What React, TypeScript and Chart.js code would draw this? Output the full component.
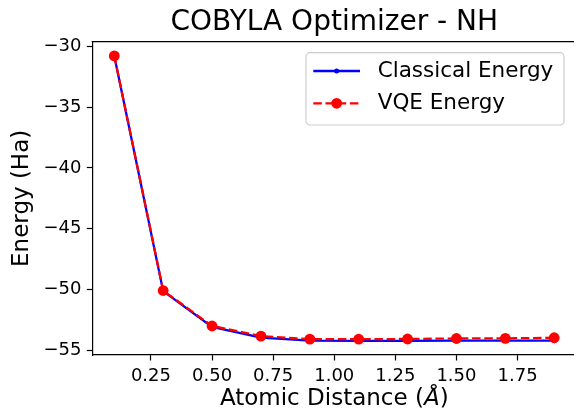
import React, { useEffect, useRef } from "react";
import { Chart, registerables } from "chart.js";

Chart.register(...registerables);

const distances = [0.1, 0.3, 0.5, 0.7, 0.9, 1.1, 1.3, 1.5, 1.7, 1.9];
const classicalEnergy = [-30.77, -50.15, -53.1, -53.98, -54.22, -54.24, -54.24, -54.23, -54.23, -54.23];
const vqeEnergy = [-30.77, -50.1, -53.02, -53.86, -54.1, -54.11, -54.09, -54.05, -54.04, -53.99];
const xTicks = [0.25, 0.5, 0.75, 1.0, 1.25, 1.5, 1.75];
const yTicks = [-55, -50, -45, -40, -35, -30];
const seriesLabels = ["Classical Energy", "VQE Energy"];
const chartTitle = "COBYLA Optimizer - NH";
const xTitleParts = ["Atomic Distance (", "Å", ")"];
const yTitle = "Energy (Ha)";

const FONT = '"DejaVu Sans", sans-serif';

const framePlugin = {
  id: "frame",
  afterDraw(chart: any) {
    const { ctx, chartArea } = chart;
    ctx.save();
    ctx.strokeStyle = "#000";
    ctx.lineWidth = 1.2;
    ctx.beginPath();
    ctx.moveTo(chartArea.left - 0.6, chartArea.top);
    ctx.lineTo(chartArea.right, chartArea.top);
    ctx.lineTo(chartArea.right, chartArea.bottom);
    ctx.stroke();
    ctx.restore();
  },
};

const xTitlePlugin = {
  id: "xTitle",
  afterDraw(chart: any) {
    const { ctx, chartArea } = chart;
    ctx.save();
    const normal = `23px ${FONT}`;
    const italic = `italic 23px ${FONT}`;
    ctx.font = normal;
    const w0 = ctx.measureText(xTitleParts[0]).width;
    const w2 = ctx.measureText(xTitleParts[2]).width;
    ctx.font = italic;
    const w1 = ctx.measureText(xTitleParts[1]).width;
    const total = w0 + w1 + w2;
    let x = (chartArea.left + chartArea.right) / 2 - total / 2;
    const y = chartArea.bottom + 44;
    ctx.fillStyle = "#000";
    ctx.textBaseline = "middle";
    ctx.textAlign = "left";
    ctx.font = normal;
    ctx.fillText(xTitleParts[0], x, y);
    x += w0;
    ctx.font = italic;
    ctx.fillText(xTitleParts[1], x, y);
    x += w1;
    ctx.font = normal;
    ctx.fillText(xTitleParts[2], x, y);
    ctx.restore();
  },
};

const legendPlugin = {
  id: "insideLegend",
  afterDraw(chart: any) {
    const { ctx, chartArea } = chart;
    const datasets = chart.data.datasets;
    ctx.save();
    ctx.font = `21.5px ${FONT}`;
    const tw = Math.max(...seriesLabels.map((l) => ctx.measureText(l).width));
    const padL = 7.3, lineLen = 46.7, gap = 17.7, padR = 10.7;
    const w = padL + lineLen + gap + tw + padR;
    const h = 72.3;
    const x0 = chartArea.right - 12.2 - w;
    const y0 = chartArea.top + 11;
    ctx.beginPath();
    if (ctx.roundRect) ctx.roundRect(x0, y0, w, h, 4);
    else ctx.rect(x0, y0, w, h);
    ctx.fillStyle = "rgba(255,255,255,0.8)";
    ctx.fill();
    ctx.strokeStyle = "#cccccc";
    ctx.lineWidth = 1.2;
    ctx.stroke();
    const order = [1, 0];
    seriesLabels.forEach((label, i) => {
      const ds = datasets[order[i]];
      const cy = y0 + 18.3 + i * 32.3;
      const lx0 = x0 + padL;
      ctx.save();
      ctx.strokeStyle = ds.borderColor;
      ctx.lineWidth = ds.borderWidth;
      ctx.setLineDash(ds.borderDash || []);
      ctx.beginPath();
      ctx.moveTo(lx0, cy);
      ctx.lineTo(lx0 + lineLen, cy);
      ctx.stroke();
      ctx.restore();
      ctx.beginPath();
      ctx.arc(lx0 + lineLen / 2, cy, ds.pointRadius, 0, Math.PI * 2);
      ctx.fillStyle = ds.pointBackgroundColor;
      ctx.fill();
      ctx.fillStyle = "#000";
      ctx.textBaseline = "middle";
      ctx.textAlign = "left";
      ctx.fillText(label, lx0 + lineLen + gap, cy);
    });
    ctx.restore();
  },
};

export default function App() {
  const canvasRef = useRef<HTMLCanvasElement | null>(null);

  useEffect(() => {
    document.body.style.margin = "0";
    const canvas = canvasRef.current;
    if (!canvas) return;
    Chart.defaults.color = "#000";
    Chart.defaults.font.family = FONT;

    const classicalData = distances.map((x, i) => ({ x, y: classicalEnergy[i] }));
    const vqeData = distances.map((x, i) => ({ x, y: vqeEnergy[i] }));

    const chart = new Chart(canvas, {
      type: "line",
      data: {
        datasets: [
          {
            label: seriesLabels[1],
            data: vqeData,
            borderColor: "#ff0000",
            backgroundColor: "#ff0000",
            pointBackgroundColor: "#ff0000",
            pointBorderColor: "#ff0000",
            borderWidth: 2.3,
            borderDash: [8.5, 3.7],
            pointRadius: 5.4,
            pointBorderWidth: 0,
            tension: 0,
            fill: false,
            order: 0,
          } as any,
          {
            label: seriesLabels[0],
            data: classicalData,
            borderColor: "#0000ff",
            backgroundColor: "#0000ff",
            pointBackgroundColor: "#0000ff",
            pointBorderColor: "#0000ff",
            borderWidth: 2.3,
            pointRadius: 2.5,
            pointBorderWidth: 0,
            tension: 0,
            fill: false,
            order: 1,
          } as any,
        ],
      },
      options: {
        animation: false,
        responsive: false,
        maintainAspectRatio: false,
        layout: { padding: { top: 0, left: 0, right: 23.8, bottom: 0 } },
        plugins: {
          legend: { display: false },
          tooltip: { enabled: false },
          title: {
            display: true,
            fullSize: false,
            text: chartTitle,
            color: "#000",
            font: { family: FONT, size: 28, weight: "normal" as any, lineHeight: 1.2 },
            padding: { top: 6, bottom: 2.1 },
          },
        },
        scales: {
          x: {
            type: "linear",
            min: 0.01,
            max: 1.99,
            afterBuildTicks: (scale: any) => {
              scale.ticks = xTicks.map((v) => ({ value: v }));
            },
            afterFit: (scale: any) => {
              scale.height = 63;
            },
            ticks: {
              font: { family: FONT, size: 18 },
              color: "#000",
              padding: 5,
              maxRotation: 0,
              autoSkip: false,
              callback: (v: any) => Number(v).toFixed(2),
            },
            grid: {
              display: true,
              drawOnChartArea: false,
              drawTicks: true,
              tickLength: 5.5,
              tickWidth: 1.2,
              tickColor: "#000",
              color: "#000",
            },
            border: { display: true, color: "#000", width: 1.2 },
          },
          y: {
            type: "linear",
            min: -55.41,
            max: -29.6,
            afterBuildTicks: (scale: any) => {
              scale.ticks = yTicks.map((v) => ({ value: v }));
            },
            afterFit: (scale: any) => {
              scale.width = 92.3;
            },
            ticks: {
              font: { family: FONT, size: 18 },
              color: "#000",
              padding: 5.4,
              autoSkip: false,
              callback: (v: any) => {
                const n = Number(v);
                return (n < 0 ? "\u2212" : "") + Math.abs(n).toString();
              },
            },
            grid: {
              display: true,
              drawOnChartArea: false,
              drawTicks: true,
              tickLength: 5.5,
              tickWidth: 1.2,
              tickColor: "#000",
              color: "#000",
            },
            border: { display: true, color: "#000", width: 1.2 },
            title: {
              display: true,
              text: yTitle,
              color: "#000",
              font: { family: FONT, size: 23, lineHeight: 1.2 },
              padding: { top: 8, bottom: 0 },
            },
          },
        },
      },
      plugins: [framePlugin, xTitlePlugin, legendPlugin],
    });

    return () => {
      chart.destroy();
    };
  }, []);

  return (
    <div style={{ width: 574, height: 418, overflow: "hidden", position: "relative", background: "#fff" }}>
      <canvas ref={canvasRef} width={600} height={418} style={{ width: 600, height: 418, display: "block" }} />
    </div>
  );
}
